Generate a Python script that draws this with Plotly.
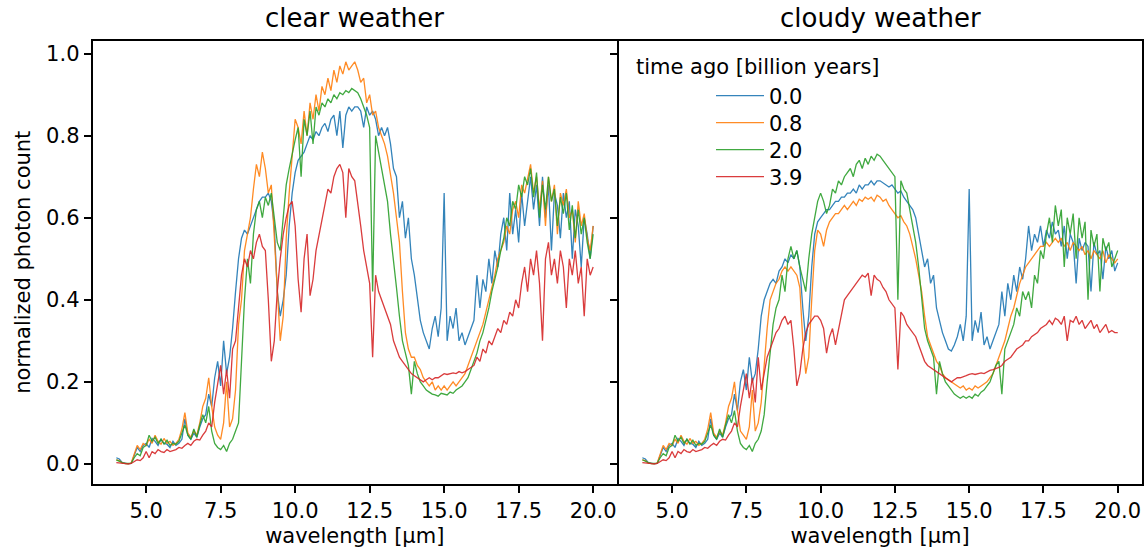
import plotly.graph_objects as go

# wavelength grid [µm], 4.0 ... 20.0 step 0.1
wavelength = [round(4.0 + 0.1 * i, 1) for i in range(161)]

labels = ["0.0", "0.8", "2.0", "3.9"]
colors = ["#1f77b4", "#ff7f0e", "#2ca02c", "#d62728"]

# ---------------- clear weather ----------------
clear_00 = [
    0.015, 0.012, 0.003, 0.001, 0.000, 0.001, 0.020, 0.040, 0.030, 0.045,
    0.050, 0.040, 0.062, 0.055, 0.045, 0.060, 0.050, 0.048, 0.040, 0.055,
    0.045, 0.050, 0.060, 0.110, 0.070, 0.060, 0.075, 0.065, 0.090, 0.110,
    0.120, 0.170, 0.140, 0.210, 0.250, 0.190, 0.300, 0.220, 0.260, 0.330,
    0.420, 0.500, 0.550, 0.570, 0.560, 0.580, 0.600, 0.620, 0.640, 0.650,
    0.650, 0.660, 0.640, 0.580, 0.420, 0.360, 0.400, 0.460, 0.580, 0.660,
    0.710, 0.740, 0.750, 0.760, 0.780, 0.800, 0.790, 0.810, 0.800, 0.820,
    0.830, 0.810, 0.840, 0.850, 0.800, 0.860, 0.770, 0.850, 0.870, 0.860,
    0.870, 0.870, 0.860, 0.820, 0.870, 0.850, 0.860, 0.840, 0.800, 0.820,
    0.800, 0.820, 0.780, 0.720, 0.700, 0.600, 0.640, 0.550, 0.600, 0.500,
    0.460, 0.400, 0.350, 0.320, 0.300, 0.280, 0.330, 0.360, 0.310, 0.380,
    0.660, 0.300, 0.360, 0.330, 0.380, 0.300, 0.320, 0.290, 0.310, 0.330,
    0.350, 0.460, 0.380, 0.450, 0.420, 0.500, 0.440, 0.520, 0.480, 0.560,
    0.600, 0.520, 0.660, 0.560, 0.620, 0.540, 0.660, 0.580, 0.640, 0.700,
    0.620, 0.680, 0.580, 0.700, 0.600, 0.680, 0.520, 0.660, 0.630, 0.550,
    0.660, 0.600, 0.640, 0.500, 0.620, 0.580, 0.480, 0.600, 0.560, 0.500,
    0.580,
]
clear_08 = [
    0.010, 0.008, 0.002, 0.001, 0.000, 0.002, 0.025, 0.045, 0.035, 0.050,
    0.045, 0.060, 0.050, 0.070, 0.055, 0.048, 0.062, 0.050, 0.055, 0.045,
    0.050, 0.060, 0.085, 0.125, 0.075, 0.065, 0.080, 0.070, 0.100, 0.140,
    0.160, 0.210, 0.140, 0.090, 0.070, 0.060, 0.100, 0.200, 0.090, 0.110,
    0.180, 0.340, 0.400, 0.520, 0.560, 0.600, 0.670, 0.730, 0.700, 0.760,
    0.720, 0.660, 0.680, 0.550, 0.400, 0.300, 0.360, 0.550, 0.660, 0.760,
    0.840, 0.820, 0.780, 0.860, 0.800, 0.880, 0.840, 0.900, 0.860, 0.920,
    0.900, 0.940, 0.910, 0.960, 0.930, 0.970, 0.950, 0.980, 0.960, 0.970,
    0.980, 0.960, 0.930, 0.940, 0.880, 0.900, 0.850, 0.860, 0.820, 0.800,
    0.780, 0.750, 0.710, 0.660, 0.600, 0.540, 0.420, 0.320, 0.280, 0.260,
    0.260, 0.240, 0.230, 0.210, 0.200, 0.190, 0.200, 0.180, 0.190, 0.180,
    0.190, 0.180, 0.190, 0.200, 0.190, 0.200, 0.210, 0.220, 0.240, 0.260,
    0.280, 0.300, 0.320, 0.340, 0.370, 0.400, 0.430, 0.460, 0.500, 0.520,
    0.540, 0.580, 0.560, 0.620, 0.640, 0.600, 0.680, 0.660, 0.700, 0.730,
    0.660, 0.700, 0.620, 0.690, 0.580, 0.700, 0.640, 0.680, 0.560, 0.660,
    0.630, 0.670, 0.600, 0.620, 0.540, 0.640, 0.580, 0.610, 0.550, 0.520,
    0.580,
]
clear_20 = [
    0.010, 0.006, 0.003, 0.001, 0.001, 0.002, 0.015, 0.025, 0.020, 0.040,
    0.045, 0.070, 0.055, 0.065, 0.050, 0.060, 0.048, 0.058, 0.045, 0.050,
    0.048, 0.055, 0.075, 0.095, 0.070, 0.060, 0.085, 0.065, 0.095, 0.120,
    0.100, 0.140, 0.080, 0.050, 0.040, 0.035, 0.045, 0.030, 0.050, 0.060,
    0.080, 0.100, 0.250, 0.400, 0.500, 0.440, 0.560, 0.620, 0.640, 0.600,
    0.650, 0.630, 0.660, 0.600, 0.540, 0.520, 0.600, 0.680, 0.720, 0.760,
    0.790, 0.820, 0.700, 0.840, 0.800, 0.860, 0.780, 0.870, 0.850, 0.880,
    0.870, 0.890, 0.880, 0.900, 0.890, 0.905, 0.900, 0.910, 0.905, 0.915,
    0.910, 0.905, 0.890, 0.870, 0.850, 0.820, 0.420, 0.800, 0.760, 0.720,
    0.680, 0.640, 0.560, 0.500, 0.430, 0.360, 0.300, 0.270, 0.240, 0.170,
    0.250, 0.220, 0.200, 0.190, 0.180, 0.175, 0.170, 0.168, 0.165, 0.172,
    0.170, 0.168, 0.175, 0.172, 0.180, 0.185, 0.190, 0.200, 0.210, 0.230,
    0.250, 0.270, 0.300, 0.320, 0.350, 0.380, 0.420, 0.450, 0.480, 0.520,
    0.550, 0.600, 0.580, 0.640, 0.620, 0.680, 0.650, 0.700, 0.680, 0.720,
    0.650, 0.710, 0.600, 0.680, 0.620, 0.700, 0.640, 0.670, 0.580, 0.650,
    0.610, 0.660, 0.570, 0.630, 0.550, 0.620, 0.560, 0.600, 0.540, 0.500,
    0.560,
]
clear_39 = [
    0.003, 0.002, 0.001, 0.000, 0.000, 0.001, 0.005, 0.010, 0.008, 0.015,
    0.030, 0.015, 0.030, 0.025, 0.035, 0.030, 0.028, 0.035, 0.030, 0.032,
    0.035, 0.040, 0.038, 0.045, 0.050, 0.045, 0.055, 0.060, 0.058, 0.070,
    0.080, 0.100, 0.090, 0.150, 0.200, 0.240, 0.170, 0.230, 0.160, 0.280,
    0.300, 0.380, 0.460, 0.500, 0.480, 0.520, 0.500, 0.540, 0.560, 0.530,
    0.520, 0.400, 0.250, 0.300, 0.420, 0.500, 0.560, 0.600, 0.630, 0.640,
    0.580, 0.450, 0.370, 0.500, 0.560, 0.410, 0.450, 0.520, 0.560, 0.600,
    0.640, 0.670, 0.660, 0.700, 0.720, 0.730, 0.710, 0.600, 0.720, 0.700,
    0.690, 0.640, 0.580, 0.520, 0.480, 0.440, 0.260, 0.460, 0.420, 0.400,
    0.380, 0.360, 0.340, 0.300, 0.280, 0.260, 0.250, 0.240, 0.230, 0.220,
    0.215, 0.210, 0.205, 0.200, 0.205, 0.210, 0.205, 0.210, 0.210, 0.215,
    0.220, 0.218, 0.220, 0.222, 0.220, 0.225, 0.222, 0.225, 0.230, 0.235,
    0.240, 0.260, 0.250, 0.280, 0.270, 0.300, 0.290, 0.310, 0.330, 0.320,
    0.350, 0.340, 0.370, 0.360, 0.400, 0.380, 0.440, 0.480, 0.420, 0.500,
    0.460, 0.520, 0.440, 0.300, 0.500, 0.540, 0.460, 0.500, 0.440, 0.520,
    0.480, 0.380, 0.500, 0.460, 0.520, 0.440, 0.480, 0.360, 0.500, 0.460,
    0.480,
]

# ---------------- cloudy weather ----------------
cloudy_00 = [
    0.015, 0.012, 0.003, 0.001, 0.000, 0.001, 0.020, 0.040, 0.030, 0.045,
    0.050, 0.040, 0.062, 0.055, 0.045, 0.060, 0.050, 0.048, 0.040, 0.055,
    0.045, 0.050, 0.060, 0.110, 0.070, 0.060, 0.075, 0.065, 0.090, 0.110,
    0.120, 0.170, 0.130, 0.200, 0.230, 0.180, 0.260, 0.200, 0.220, 0.280,
    0.360, 0.400, 0.420, 0.440, 0.450, 0.440, 0.470, 0.480, 0.500, 0.490,
    0.510, 0.500, 0.520, 0.480, 0.380, 0.300, 0.360, 0.480, 0.560, 0.590,
    0.600, 0.610, 0.620, 0.620, 0.630, 0.640, 0.640, 0.650, 0.650, 0.660,
    0.660, 0.670, 0.660, 0.680, 0.670, 0.680, 0.680, 0.690, 0.680, 0.690,
    0.690, 0.685, 0.680, 0.675, 0.680, 0.670, 0.660, 0.665, 0.650, 0.640,
    0.630, 0.620, 0.600, 0.560, 0.520, 0.480, 0.500, 0.440, 0.460, 0.380,
    0.350, 0.320, 0.300, 0.280, 0.275, 0.290, 0.310, 0.340, 0.300, 0.360,
    0.670, 0.300, 0.350, 0.320, 0.370, 0.290, 0.310, 0.280, 0.300, 0.320,
    0.340, 0.420, 0.360, 0.440, 0.400, 0.460, 0.420, 0.480, 0.450, 0.500,
    0.580, 0.520, 0.560, 0.540, 0.580, 0.530, 0.570, 0.550, 0.590, 0.560,
    0.570, 0.530, 0.580, 0.500, 0.560, 0.540, 0.440, 0.550, 0.520, 0.540,
    0.530, 0.420, 0.540, 0.510, 0.520, 0.450, 0.530, 0.500, 0.520, 0.470,
    0.490,
]
cloudy_08 = [
    0.010, 0.008, 0.002, 0.001, 0.000, 0.002, 0.025, 0.045, 0.035, 0.050,
    0.045, 0.060, 0.050, 0.070, 0.055, 0.048, 0.062, 0.050, 0.055, 0.045,
    0.050, 0.060, 0.085, 0.125, 0.075, 0.065, 0.080, 0.070, 0.100, 0.140,
    0.160, 0.200, 0.130, 0.080, 0.070, 0.060, 0.090, 0.180, 0.080, 0.100,
    0.150, 0.250, 0.330, 0.400, 0.420, 0.440, 0.450, 0.470, 0.480, 0.470,
    0.480, 0.470, 0.460, 0.430, 0.300, 0.220, 0.260, 0.400, 0.520, 0.570,
    0.560, 0.530, 0.570, 0.590, 0.600, 0.610, 0.610, 0.620, 0.630, 0.620,
    0.630, 0.640, 0.630, 0.645, 0.640, 0.650, 0.645, 0.650, 0.640, 0.655,
    0.650, 0.640, 0.645, 0.630, 0.620, 0.610, 0.600, 0.605, 0.590, 0.580,
    0.560, 0.530, 0.500, 0.460, 0.420, 0.360, 0.310, 0.290, 0.270, 0.250,
    0.240, 0.220, 0.210, 0.205, 0.200, 0.195, 0.190, 0.185, 0.190, 0.180,
    0.185, 0.180, 0.190, 0.185, 0.190, 0.195, 0.200, 0.210, 0.220, 0.240,
    0.260, 0.280, 0.300, 0.330, 0.360, 0.380, 0.410, 0.440, 0.460, 0.480,
    0.490, 0.500, 0.510, 0.520, 0.530, 0.530, 0.540, 0.530, 0.540, 0.550,
    0.540, 0.550, 0.530, 0.540, 0.520, 0.540, 0.530, 0.520, 0.530, 0.510,
    0.520, 0.500, 0.520, 0.510, 0.500, 0.520, 0.490, 0.510, 0.500, 0.490,
    0.500,
]
cloudy_20 = [
    0.010, 0.006, 0.003, 0.001, 0.001, 0.002, 0.015, 0.025, 0.020, 0.040,
    0.045, 0.070, 0.055, 0.065, 0.050, 0.060, 0.048, 0.058, 0.045, 0.050,
    0.048, 0.055, 0.075, 0.095, 0.070, 0.060, 0.085, 0.065, 0.095, 0.120,
    0.100, 0.130, 0.080, 0.050, 0.040, 0.035, 0.045, 0.030, 0.050, 0.060,
    0.080, 0.120, 0.200, 0.270, 0.340, 0.380, 0.400, 0.460, 0.420, 0.500,
    0.530, 0.500, 0.520, 0.480, 0.450, 0.420, 0.500, 0.560, 0.600, 0.640,
    0.660, 0.640, 0.610, 0.630, 0.670, 0.660, 0.690, 0.680, 0.700, 0.710,
    0.720, 0.700, 0.730, 0.740, 0.720, 0.745, 0.730, 0.750, 0.740, 0.755,
    0.750, 0.740, 0.730, 0.720, 0.710, 0.700, 0.400, 0.690, 0.670, 0.660,
    0.620, 0.580, 0.540, 0.480, 0.400, 0.330, 0.300, 0.280, 0.260, 0.170,
    0.250, 0.220, 0.200, 0.190, 0.180, 0.170, 0.165, 0.160, 0.165, 0.160,
    0.165, 0.160, 0.170, 0.165, 0.175, 0.180, 0.190, 0.200, 0.220, 0.240,
    0.250, 0.170, 0.280, 0.300, 0.320, 0.340, 0.380, 0.360, 0.420, 0.400,
    0.420, 0.380, 0.460, 0.440, 0.520, 0.500, 0.560, 0.600, 0.540, 0.630,
    0.580, 0.620, 0.480, 0.600, 0.560, 0.610, 0.500, 0.600, 0.550, 0.590,
    0.400, 0.570, 0.530, 0.560, 0.420, 0.550, 0.520, 0.540, 0.480, 0.500,
    0.520,
]
cloudy_39 = [
    0.003, 0.002, 0.001, 0.000, 0.000, 0.001, 0.005, 0.010, 0.008, 0.015,
    0.030, 0.015, 0.030, 0.025, 0.035, 0.030, 0.028, 0.035, 0.030, 0.032,
    0.035, 0.040, 0.038, 0.045, 0.050, 0.045, 0.055, 0.060, 0.058, 0.070,
    0.080, 0.100, 0.090, 0.140, 0.180, 0.220, 0.160, 0.210, 0.150, 0.260,
    0.180, 0.220, 0.260, 0.280, 0.300, 0.320, 0.330, 0.350, 0.360, 0.340,
    0.350, 0.280, 0.190, 0.220, 0.280, 0.320, 0.340, 0.350, 0.360, 0.360,
    0.350, 0.330, 0.270, 0.310, 0.330, 0.290, 0.330, 0.370, 0.400, 0.410,
    0.420, 0.430, 0.440, 0.450, 0.460, 0.455, 0.465, 0.410, 0.460, 0.450,
    0.445, 0.430, 0.420, 0.400, 0.390, 0.380, 0.230, 0.370, 0.360, 0.340,
    0.330, 0.320, 0.310, 0.290, 0.270, 0.250, 0.240, 0.235, 0.230, 0.225,
    0.220, 0.215, 0.210, 0.205, 0.200, 0.205, 0.210, 0.210, 0.212, 0.215,
    0.218, 0.220, 0.218, 0.220, 0.222, 0.220, 0.225, 0.228, 0.230, 0.232,
    0.235, 0.240, 0.250, 0.255, 0.260, 0.270, 0.280, 0.285, 0.290, 0.300,
    0.300, 0.310, 0.315, 0.320, 0.330, 0.335, 0.340, 0.350, 0.340, 0.355,
    0.350, 0.340, 0.360, 0.300, 0.350, 0.345, 0.360, 0.340, 0.350, 0.330,
    0.340, 0.350, 0.330, 0.340, 0.320, 0.330, 0.340, 0.320, 0.325, 0.320,
    0.320,
]

x_tickvals = [5.0, 7.5, 10.0, 12.5, 15.0, 17.5, 20.0]
x_ticktext = ["5.0", "7.5", "10.0", "12.5", "15.0", "17.5", "20.0"]
y_tickvals = [0.0, 0.2, 0.4, 0.6, 0.8, 1.0]
y_ticktext = ["0.0", "0.2", "0.4", "0.6", "0.8", "1.0"]

W, H = 1147, 560
FONT = "DejaVu Sans"


def px_x(px):
    return px / W


def px_y(py):
    return 1 - py / H


fig = go.Figure()
clear = [clear_00, clear_08, clear_20, clear_39]
cloudy = [cloudy_00, cloudy_08, cloudy_20, cloudy_39]
legend_ids = ["legend", "legend2", "legend3", "legend4"]
for i in range(4):
    fig.add_trace(go.Scatter(x=wavelength, y=clear[i], mode="lines", name=labels[i],
                             line=dict(color=colors[i], width=1.3), opacity=0.9,
                             xaxis="x", yaxis="y", showlegend=False))
for i in range(4):
    fig.add_trace(go.Scatter(x=wavelength, y=cloudy[i], mode="lines", name=labels[i],
                             line=dict(color=colors[i], width=1.3), opacity=0.9,
                             xaxis="x2", yaxis="y2", showlegend=True,
                             legend=legend_ids[i]))

left_px = (92.5, 617.0)
right_px = (618.6, 1141.5)
top_px, bot_px = 40.5, 484.0
ydom = [px_y(bot_px), px_y(top_px)]

axis_common = dict(
    showline=True, mirror=True, linecolor="black", linewidth=1.6,
    ticks="outside", ticklen=7, tickwidth=1.5, tickcolor="black",
    showgrid=False, zeroline=False, automargin=False,
    tickfont=dict(family=FONT, size=21, color="black"),
)

legend_rows_px = [96, 123, 150, 177]
legend_common = dict(xanchor="left", yanchor="middle", itemwidth=48,
                     bgcolor="rgba(255,255,255,0)", borderwidth=0,
                     font=dict(family=FONT, size=21, color="black"))
legend_x = px_x(711)

fig.update_layout(
    width=W, height=H,
    margin=dict(l=0, r=0, t=0, b=0),
    paper_bgcolor="white", plot_bgcolor="white",
    font=dict(family=FONT, size=21, color="black"),
    xaxis=dict(domain=[px_x(left_px[0]), px_x(left_px[1])], range=[3.2, 20.8],
               tickvals=x_tickvals, ticktext=x_ticktext, anchor="y",
               title=dict(text="wavelength [µm]", font=dict(family=FONT, size=21), standoff=6),
               **axis_common),
    xaxis2=dict(domain=[px_x(right_px[0]), px_x(right_px[1])], range=[3.2, 20.8],
                tickvals=x_tickvals, ticktext=x_ticktext, anchor="y2",
                title=dict(text="wavelength [µm]", font=dict(family=FONT, size=21), standoff=6),
                **axis_common),
    yaxis=dict(domain=ydom, range=[-0.049, 1.032], tickvals=y_tickvals, ticktext=y_ticktext,
               anchor="x",
               title=dict(text="normalized photon count", font=dict(family=FONT, size=21), standoff=10),
               **axis_common),
    yaxis2=dict(domain=ydom, range=[-0.049, 1.032], tickvals=y_tickvals, ticktext=y_ticktext,
                anchor="x2", matches="y", showticklabels=False, **axis_common),
    legend=dict(x=legend_x, y=px_y(legend_rows_px[0]), **legend_common),
    legend2=dict(x=legend_x, y=px_y(legend_rows_px[1]), **legend_common),
    legend3=dict(x=legend_x, y=px_y(legend_rows_px[2]), **legend_common),
    legend4=dict(x=legend_x, y=px_y(legend_rows_px[3]), **legend_common),
    showlegend=True,
)

fig.add_annotation(text="clear weather", x=px_x((left_px[0] + left_px[1]) / 2), y=px_y(18),
                   xref="paper", yref="paper", xanchor="center", yanchor="middle",
                   showarrow=False, font=dict(family=FONT, size=26, color="black"))
fig.add_annotation(text="cloudy weather", x=px_x((right_px[0] + right_px[1]) / 2), y=px_y(18),
                   xref="paper", yref="paper", xanchor="center", yanchor="middle",
                   showarrow=False, font=dict(family=FONT, size=26, color="black"))
fig.add_annotation(text="time ago [billion years]", x=px_x(634), y=px_y(67),
                   xref="paper", yref="paper", xanchor="left", yanchor="middle",
                   showarrow=False, font=dict(family=FONT, size=21, color="black"))

# remove the default 8 px page margin so the figure sits at the window's top-left corner
fig.write_html("out.html",
               config={"displayModeBar": False},
               post_script="document.body.style.margin='0px';document.body.style.overflow='hidden';")
